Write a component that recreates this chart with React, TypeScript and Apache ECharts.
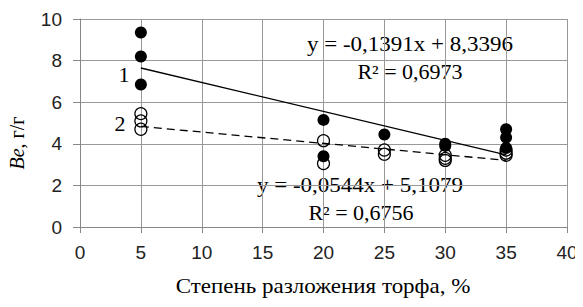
import React, { useEffect, useRef } from "react";
import * as echarts from "echarts";

const filledPoints: [number, number][] = [
  [5, 9.35], [5, 8.2], [5, 6.85],
  [20, 5.15], [20, 3.4],
  [25, 4.45],
  [30, 4.0], [30, 3.9],
  [35, 4.7], [35, 4.3], [35, 3.8],
];
const openPoints: [number, number][] = [
  [5, 5.45], [5, 5.1], [5, 4.7],
  [20, 4.15], [20, 3.05],
  [25, 3.7], [25, 3.5],
  [30, 3.45], [30, 3.3], [30, 3.2],
  [35, 3.7], [35, 3.55], [35, 3.45],
];
const trendSlopes = [-0.1391, -0.0544];
const trendIntercepts = [8.3396, 5.1079];
const trendRange = [5, 35];
const equationTexts = ["y = -0,1391x + 8,3396", "y = -0,0544x + 5,1079"];
const r2Texts = ["R² = 0,6973", "R² = 0,6756"];
const xTitle = "Степень разложения торфа, %";

const SERIF = "'Liberation Serif', 'Times New Roman', serif";
const SANS = "'Liberation Sans', Arial, sans-serif";

export default function App() {
  const ref = useRef<HTMLDivElement>(null);
  useEffect(() => {
    if (!ref.current) return;
    const chart = echarts.init(ref.current, null, { renderer: "svg" });
    const trend = (i: number) =>
      trendRange.map((x) => [x, trendSlopes[i] * x + trendIntercepts[i]]);
    const txt = { fontFamily: SERIF, fontSize: 20, fill: "#000" };
    const label = (text: string, x: number, y: number, sx: number) => ({
      type: "text",
      x,
      y,
      scaleX: sx,
      style: { ...txt, text, align: "center", verticalAlign: "middle" },
    });
    chart.setOption({
      animation: false,
      backgroundColor: "#fff",
      grid: { left: 80, right: 16, top: 19, bottom: 80 },
      xAxis: {
        type: "value",
        min: 0,
        max: 40,
        interval: 5,
        axisLine: { lineStyle: { color: "#888", width: 1 } },
        axisTick: { show: true, length: 6, lineStyle: { color: "#888" } },
        axisLabel: { fontFamily: SANS, fontSize: 19, color: "#222", margin: 16 },
        splitLine: { show: true, lineStyle: { color: "#999", width: 1 } },
      },
      yAxis: {
        type: "value",
        min: 0,
        max: 10,
        interval: 2,
        axisLine: { show: true, lineStyle: { color: "#888", width: 1 } },
        axisTick: { show: true, length: 7, lineStyle: { color: "#888" } },
        axisLabel: { fontFamily: SANS, fontSize: 19, color: "#222", margin: 18 },
        splitLine: { show: true, lineStyle: { color: "#999", width: 1 } },
      },
      series: [
        {
          type: "line",
          data: trend(0),
          symbol: "none",
          lineStyle: { color: "#000", width: 1.3 },
          z: 2,
        },
        {
          type: "line",
          data: trend(1),
          symbol: "none",
          lineStyle: { color: "#000", width: 1.3, type: [8, 5] },
          z: 2,
        },
        {
          type: "scatter",
          data: filledPoints,
          symbol: "circle",
          symbolSize: 12,
          itemStyle: { color: "#000", opacity: 1 },
          z: 3,
        },
        {
          type: "scatter",
          data: openPoints,
          symbol: "circle",
          symbolSize: 12,
          itemStyle: { color: "transparent", borderColor: "#000", borderWidth: 1.2, opacity: 1 },
          z: 3,
        },
      ],
      graphic: [
        label(equationTexts[0], 410, 45, 1.15),
        label(r2Texts[0], 410, 72, 1.1),
        label(equationTexts[1], 360, 186, 1.15),
        label(r2Texts[1], 361, 213, 1.1),
        label("1", 124, 75, 1.1),
        label("2", 120, 124, 1.1),
        label(xTitle, 323, 287, 1.15),
        {
          type: "text",
          x: 17,
          y: 143,
          rotation: Math.PI / 2,
          style: {
            text: "{i|Be}, г/г",
            align: "center",
            verticalAlign: "middle",
            fontFamily: SERIF,
            fontSize: 20,
            fill: "#000",
            rich: { i: { fontFamily: SERIF, fontSize: 20, fontStyle: "italic", fill: "#000" } },
          },
        },
      ],
    });
    return () => chart.dispose();
  }, []);
  return <div ref={ref} style={{ width: 583, height: 307, margin: -8 }} />;
}
